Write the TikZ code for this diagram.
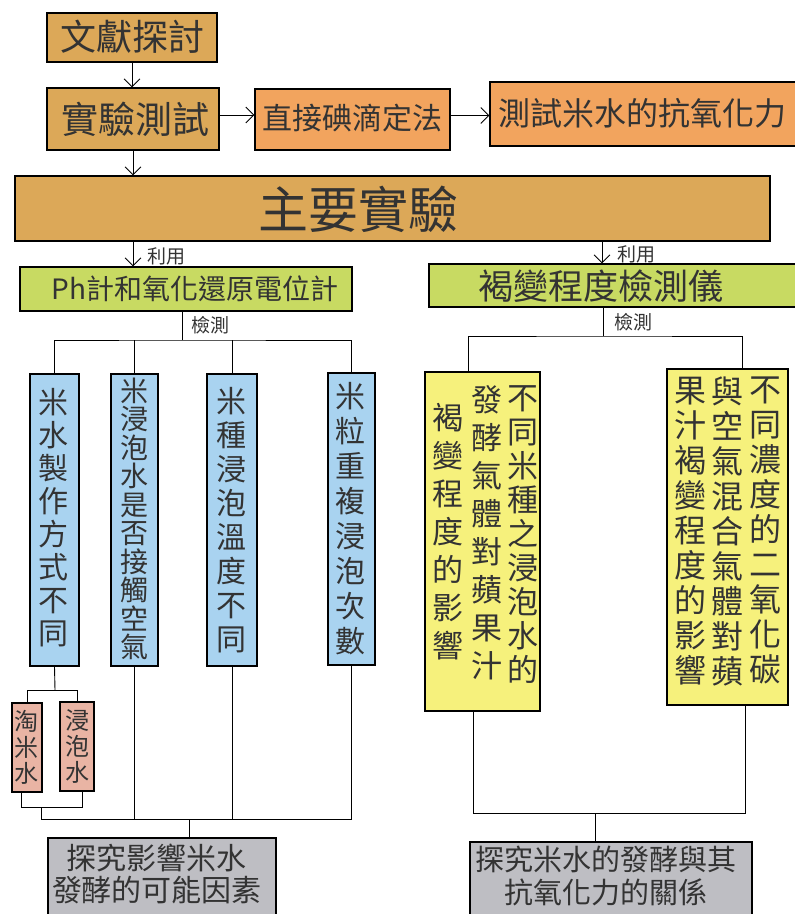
\documentclass[tikz,border=0pt]{standalone}
\usepackage{fontspec}
\setmainfont{Noto Sans CJK TC}
\usetikzlibrary{arrows.meta}
\definecolor{ochre}{HTML}{DCA858}
\definecolor{orangeb}{HTML}{F2A45E}
\definecolor{greenb}{HTML}{C8DA62}
\definecolor{blueb}{HTML}{A9D3F0}
\definecolor{yellowb}{HTML}{F6F17C}
\definecolor{pinkb}{HTML}{E9B4A4}
\definecolor{grayb}{HTML}{BEBEC3}
\newcommand{\fs}[2]{\fontsize{#1}{#2}\selectfont}
\begin{document}
\begin{tikzpicture}[x=1pt,y=-1pt,
  box/.style={draw=black, line width=1.1pt, inner sep=0pt},
  lbl/.style={inner sep=0pt, text=black!80},
  vt/.style={inner sep=0pt, align=center, text=black!80},
  arr/.style={-{Straight Barb[length=8pt,width=16pt]}, line width=0.9pt},
  ln/.style={line width=0.9pt}]
\useasboundingbox[fill=white] (0,0) rectangle (795,914);

% top row
\node[box, fill=ochre, minimum width=170pt, minimum height=49pt] (lit) at (132,37.5) {};
\node[lbl, font=\fs{36}{40}] (litT) at (132,37) {文獻探討};
\node[box, fill=ochre, minimum width=172pt, minimum height=62pt] (exp) at (133,119) {};
\node[lbl, font=\fs{37}{40}] (expT) at (135,119) {實驗測試};
\node[box, fill=orangeb, minimum width=195pt, minimum height=61pt] (iod) at (352.5,119.5) {};
\node[lbl, font=\fs{30}{34}] (iodT) at (352,118) {直接碘滴定法};
\node[box, fill=orangeb, minimum width=310pt, minimum height=64pt] (anti) at (645,114) {};
\node[lbl, font=\fs{32}{36}] (antiT) at (642,113) {測試米水的抗氧化力};

\draw[arr] (lit.south) -- (lit.south |- exp.north);
\draw[arr] ([yshift=4pt]exp.east) -- ([yshift=4pt]exp.east -| iod.west);
\draw[arr] ([yshift=4pt]iod.east) -- ([yshift=4pt]iod.east -| anti.west);

% main
\node[box, fill=ochre, minimum width=755pt, minimum height=65pt] (main) at (392.5,208.5) {};
\node[lbl, font=\fs{50}{54}] (mainT) at (358,209) {主要實驗};
\draw[arr] (exp.south) -- (exp.south |- main.north);

% green
\node[box, fill=greenb, minimum width=332pt, minimum height=44pt] (gl) at (186,289) {};
\node[lbl, font=\fs{28}{32}] (glT) at (195,289) {Ph計和氧化還原電位計};
\node[box, fill=greenb, minimum width=371pt, minimum height=43pt] (gr) at (614.5,285.5) {};
\node[lbl, font=\fs{35}{38}] (grT) at (601,286) {褐變程度檢測儀};

\coordinate (ua) at (133,241);
\coordinate (ub) at (602,241);
\draw[arr] (ua) -- (ua |- gl.north);
\draw[arr] (ub) -- (ub |- gr.north);
\node[lbl, font=\fs{19}{22}] (use1) at (166,256) {利用};
\node[lbl, font=\fs{19}{22}] (use2) at (636,254) {利用};

% blue boxes
\node[box, fill=blueb, minimum width=49pt, minimum height=292pt] (b1) at (54.5,520) {};
\node[box, fill=blueb, minimum width=47pt, minimum height=292pt] (b2) at (134.5,520) {};
\node[box, fill=blueb, minimum width=50pt, minimum height=292pt] (b3) at (232,520) {};
\node[box, fill=blueb, minimum width=47pt, minimum height=292pt] (b4) at (351.5,519) {};
\node[vt, font=\fs{30}{33}] (b1T) at (53,518) {米\\水\\製\\作\\方\\式\\不\\同};
\node[vt, font=\fs{28}{28.5}] (b2T) at (134,519) {米\\浸\\泡\\水\\是\\否\\接\\觸\\空\\氣};
\node[vt, font=\fs{30}{34}] (b3T) at (231,520) {米\\種\\浸\\泡\\溫\\度\\不\\同};
\node[vt, font=\fs{30}{35}] (b4T) at (350,519) {米\\粒\\重\\複\\浸\\泡\\次\\數};

\coordinate (busL) at (182,340);
\draw[ln] (gl.south -| busL) -- (busL);
\draw[ln] (b1.north) |- (busL) -| (b4.north);
\draw[ln] (b2.north) -- (b2.north |- busL);
\draw[ln] (b3.north) -- (b3.north |- busL);
\node[lbl, font=\fs{19}{22}] (det1) at (210,325) {檢測};

% pink sub boxes
\node[box, fill=pinkb, minimum width=30pt, minimum height=89pt] (p1) at (27,747.5) {};
\node[box, fill=pinkb, minimum width=34pt, minimum height=89pt] (p2) at (77,746.5) {};
\node[vt, font=\fs{24}{26}] (p1T) at (27,747) {淘\\米\\水};
\node[vt, font=\fs{24}{26}] (p2T) at (77,746) {浸\\泡\\水};
\coordinate (sbus) at (55,690);
\draw[ln] (b1.south) -- (sbus);
\draw[ln] (p1.north) |- (sbus) -| (p2.north);
\coordinate (jj) at (41,807);
\draw[ln] ([xshift=-6pt]p1.south) |- (jj) -| ([xshift=5pt]p2.south);

% gray left
\node[box, fill=grayb, minimum width=228pt, minimum height=92pt] (gL) at (162,884) {};
\node[vt, font=\fs{30}{32}] (gLT) at (157,874) {探究影響米水\\發酵的可能因素};
\coordinate (busB) at (189,819);
\draw[ln] (jj) |- (b4.south |- busB) -- (b4.south);
\draw[ln] (b2.south) -- (b2.south |- busB);
\draw[ln] (b3.south) -- (b3.south |- busB);
\draw[ln] (busB) -- (busB |- gL.north);

% yellow boxes
\node[box, fill=yellowb, minimum width=115pt, minimum height=339pt] (yA) at (482.5,541.5) {};
\node[box, fill=yellowb, minimum width=121pt, minimum height=336pt] (yB) at (727.5,537) {};
\node[vt, font=\fs{31}{34}, anchor=north] (yA1) at (523,385) {不\\同\\米\\種\\之\\浸\\泡\\水\\的};
\node[vt, font=\fs{31}{38}, anchor=north] (yA2) at (487,385) {發\\酵\\氣\\體\\對\\蘋\\果\\汁};
\node[vt, font=\fs{31}{38}, anchor=north] (yA3) at (448,403) {褐\\變\\程\\度\\的\\影\\響};
\node[vt, font=\fs{32}{35}, anchor=north] (yB1) at (765,377) {不\\同\\濃\\度\\的\\二\\氧\\化\\碳};
\node[vt, font=\fs{32}{35}, anchor=north] (yB2) at (727,377) {與\\空\\氣\\混\\合\\氣\\體\\對\\蘋};
\node[vt, font=\fs{32}{35}, anchor=north] (yB3) at (690,377) {果\\汁\\褐\\變\\程\\度\\的\\影\\響};

\coordinate (busR) at (603,336);
\draw[ln] (gr.south -| busR) -- (busR);
\coordinate (yAt) at (468,372);
\coordinate (yBt) at (742,369);
\draw[ln] (yAt) |- (busR) -| (yBt);
\node[lbl, font=\fs{19}{22}] (det2) at (633,322) {檢測};

% gray right
\node[box, fill=grayb, minimum width=282pt, minimum height=88pt] (gR) at (611,886) {};
\node[vt, font=\fs{29}{33}] (gRT) at (606,876) {探究米水的發酵與其\\抗氧化力的關係};
\coordinate (busRB) at (595,813);
\coordinate (yAb) at (473,711);
\coordinate (yBb) at (745,705);
\draw[ln] (yAb) |- (busRB) -| (yBb);
\draw[ln] (busRB) -- (busRB |- gR.north);
\end{tikzpicture}
\end{document}
